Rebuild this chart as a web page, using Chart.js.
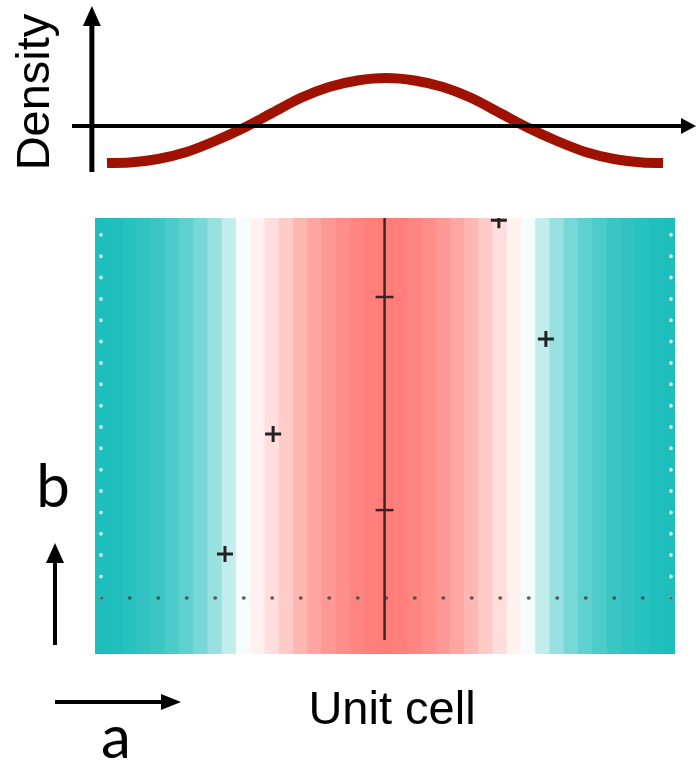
<!DOCTYPE html>
<html>
<head>
<meta charset="utf-8">
<script src="https://cdn.jsdelivr.net/npm/chart.js@4.4.1/dist/chart.umd.min.js"></script>
<style>
  body { margin: 0; background: #fff; }
  #wrap { position: relative; width: 696px; height: 764px; }
  canvas { position: absolute; left: 0; }
  #densityChart { top: 0; }
  #cellChart { top: 200px; }
</style>
</head>
<body>
<div id="wrap">
  <canvas id="densityChart" width="696" height="200"></canvas>
  <canvas id="cellChart" width="696" height="564"></canvas>
</div>
<script>
// position along a, in dot spacings of the unit cell (0 .. 20)
const curveU = [0.21, 1, 2, 3, 4, 5, 6, 7, 8, 9, 10, 11, 12, 13, 14, 15, 16, 17, 18, 19, 19.72];
const curveDensity = [-3.7, -3.65, -3.3, -2.6, -1.5, -0.2, 1.3, 2.8, 3.9, 4.55, 4.8, 4.55, 3.9, 2.8, 1.3, -0.2, -1.5, -2.6, -3.3, -3.65, -3.7];

// colour bands of the map (normalised density, -1 teal .. +1 red)
const bandU = [0, 0.5, 1, 1.5, 2, 2.5, 3, 3.5, 4, 4.5, 5, 5.5, 6, 6.5, 7, 7.5, 8, 8.5, 9, 9.5, 10,
               10.5, 11, 11.5, 12, 12.5, 13, 13.5, 14, 14.5, 15, 15.5, 16, 16.5, 17, 17.5, 18, 18.5, 19, 19.5, 20];
const bandDensity = [-1, -0.99, -0.96, -0.92, -0.87, -0.8, -0.71, -0.6, -0.46, -0.27, -0.04, 0.1, 0.25, 0.4, 0.55, 0.68, 0.79, 0.87, 0.93, 0.98, 1,
                     0.98, 0.93, 0.87, 0.79, 0.68, 0.55, 0.4, 0.25, 0.1, -0.04, -0.27, -0.46, -0.6, -0.71, -0.8, -0.87, -0.92, -0.96, -0.99, -1];

// atoms (+) in the cell, (a, b)
const atomA = [13.96, 15.61, 6.04, 4.35];
const atomB = [17.7, 12.13, 7.68, 2.06];

// mirror line and its ticks
const mirrorA = 9.95;
const mirrorB = [-1.97, 18];
const mirrorTicksB = [14.1, 4.12];

// cell edges (dotted)
const cellA = [0, 20];
const cellB = [0, 18];

const xRange = [-0.21, 20.14];
const yRange = [-2.62, 17.8];

const teal = [30, 190, 188];
const red = [255, 124, 119];

function bandColor(t) {
    const c = t < 0 ? teal : red;
    const k = Math.min(1, Math.abs(t));
    const mix = c.map(v => Math.round(255 + (v - 255) * k));
    return 'rgb(' + mix.join(',') + ')';
}

function arrow(ctx, x1, y1, x2, y2, head, half, width) {
    const ang = Math.atan2(y2 - y1, x2 - x1);
    const bx = x2 - Math.cos(ang) * head, by = y2 - Math.sin(ang) * head;
    ctx.strokeStyle = '#000';
    ctx.fillStyle = '#000';
    ctx.lineWidth = width;
    ctx.beginPath();
    ctx.moveTo(x1, y1);
    ctx.lineTo(bx + Math.cos(ang) * 2, by + Math.sin(ang) * 2);
    ctx.stroke();
    ctx.beginPath();
    ctx.moveTo(x2, y2);
    ctx.lineTo(bx - Math.sin(ang) * half, by + Math.cos(ang) * half);
    ctx.lineTo(bx + Math.sin(ang) * half, by - Math.cos(ang) * half);
    ctx.closePath();
    ctx.fill();
}

// axes with arrows + "Density" label
const densityAxes = {
    id: 'densityAxes',
    afterDatasetsDraw(chart) {
        const ctx = chart.ctx;
        const x = chart.scales.x, y = chart.scales.y;
        const y0 = y.getPixelForValue(0);
        const xa = x.getPixelForValue(-0.32);
        ctx.save();
        arrow(ctx, chart.chartArea.left - 23, y0, chart.width, y0, 15, 8, 4);
        arrow(ctx, xa, chart.chartArea.bottom, xa, 6, 20, 9, 5);
        ctx.translate(49, 92);
        ctx.rotate(-Math.PI / 2);
        ctx.fillStyle = '#000';
        ctx.font = '47px "Liberation Sans", Arial, sans-serif';
        ctx.textAlign = 'center';
        ctx.textBaseline = 'alphabetic';
        ctx.fillText('Density', 0, 0);
        ctx.restore();
    }
};

new Chart(document.getElementById('densityChart'), {
    type: 'line',
    data: {
        datasets: [{
            data: curveU.map((u, i) => ({ x: u, y: curveDensity[i] })),
            borderColor: '#a01200',
            borderWidth: 10,
            borderCapStyle: 'butt',
            pointRadius: 0,
            cubicInterpolationMode: 'monotone',
            fill: false
        }]
    },
    options: {
        responsive: false,
        animation: false,
        layout: { padding: { left: 95, right: 21, top: 20, bottom: 28 } },
        plugins: { legend: { display: false }, tooltip: { enabled: false } },
        scales: {
            x: { type: 'linear', min: xRange[0], max: xRange[1], display: false },
            y: { min: -4.6, max: 10.6, display: false }
        }
    },
    plugins: [densityAxes]
});

// labels and the a / b arrows round the map
const cellLabels = {
    id: 'cellLabels',
    afterDraw(chart) {
        const ctx = chart.ctx;
        ctx.save();
        arrow(ctx, 55, 445, 55, 343, 20, 9, 4);
        arrow(ctx, 55, 502, 181, 502, 20, 8, 4);
        ctx.fillStyle = '#000';
        ctx.textAlign = 'center';
        ctx.textBaseline = 'alphabetic';
        ctx.font = '60px Lato, "DejaVu Sans", sans-serif';
        ctx.fillText('b', 53, 307);
        ctx.fillText('a', 116, 558);
        ctx.font = '47px "Liberation Sans", Arial, sans-serif';
        ctx.fillText('Unit cell', 392, 524);
        ctx.restore();
    }
};

new Chart(document.getElementById('cellChart'), {
    type: 'bar',
    data: {
        datasets: [
            {
                type: 'scatter',
                data: atomA.map((a, i) => ({ x: a, y: atomB[i] })),
                pointStyle: 'cross',
                pointRadius: 8,
                pointBorderWidth: 3,
                pointBorderColor: '#222',
                clip: 0,
                order: 1
            },
            {
                type: 'scatter',
                data: mirrorTicksB.map(b => ({ x: mirrorA, y: b })),
                pointStyle: 'line',
                pointRadius: 9,
                pointBorderWidth: 2.5,
                pointBorderColor: '#3a2424',
                order: 2
            },
            {
                type: 'line',
                data: mirrorB.map(b => ({ x: mirrorA, y: b })),
                borderColor: '#3a2626',
                borderWidth: 2.5,
                pointRadius: 0,
                order: 3
            },
            {
                type: 'line',
                data: cellA.map(a => ({ x: a, y: 0 })),
                borderColor: 'rgba(70,70,70,0.85)',
                borderWidth: 3.5,
                borderCapStyle: 'round',
                borderDash: [0.5, 28],
                pointRadius: 0,
                order: 4
            },
            {
                type: 'line',
                data: cellB.map(b => ({ x: cellA[0], y: b })),
                borderColor: 'rgba(232,248,248,0.9)',
                borderWidth: 3.5,
                borderCapStyle: 'round',
                borderDash: [0.5, 20.85],
                pointRadius: 0,
                order: 4
            },
            {
                type: 'line',
                data: cellB.map(b => ({ x: cellA[1], y: b })),
                borderColor: 'rgba(232,248,248,0.9)',
                borderWidth: 3.5,
                borderCapStyle: 'round',
                borderDash: [0.5, 20.85],
                pointRadius: 0,
                order: 4
            },
            {
                type: 'bar',
                data: bandU.map(u => ({ x: u, y: [yRange[0] - 1, yRange[1] + 1] })),
                backgroundColor: bandDensity.map(bandColor),
                borderWidth: 0,
                barPercentage: 1.06,
                categoryPercentage: 1,
                order: 5
            }
        ]
    },
    options: {
        responsive: false,
        animation: false,
        layout: { padding: { left: 95, right: 21, top: 18, bottom: 110 } },
        plugins: { legend: { display: false }, tooltip: { enabled: false } },
        scales: {
            x: { type: 'linear', min: xRange[0], max: xRange[1], offset: false, display: false },
            y: { type: 'linear', min: yRange[0], max: yRange[1], display: false }
        }
    },
    plugins: [cellLabels]
});
</script>
</body>
</html>
